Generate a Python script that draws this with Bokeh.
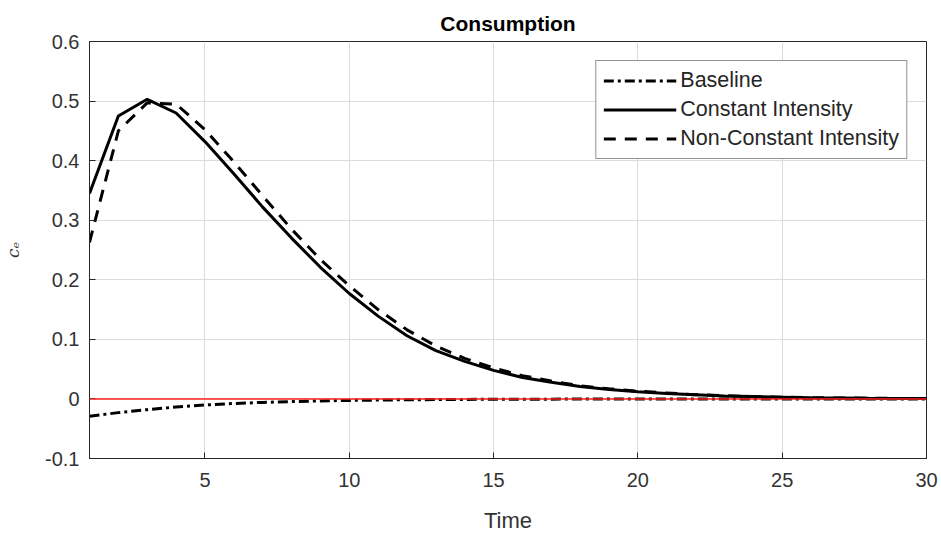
from bokeh.plotting import figure
from bokeh.models import (Legend, LegendItem, Span, FixedTicker, Range1d)
from bokeh.embed import file_html
from bokeh.resources import INLINE

# ---- data ----
time = list(range(1, 31))
baseline = [-0.029, -0.023, -0.018, -0.0135, -0.0102, -0.0077, -0.0058, -0.0044, -0.0033, -0.0025,
            -0.0019, -0.0014, -0.0011, -0.0008, -0.0006, -0.00045, -0.00035, -0.00026, -0.0002, -0.00015,
            -0.00011, -0.00008, -0.00006, -0.00005, -0.00004, -0.00003, -0.00002, -0.00002, -0.00001, -0.00001]
constant = [0.345, 0.475, 0.503, 0.48, 0.432, 0.378, 0.322, 0.27, 0.221, 0.177,
            0.139, 0.106, 0.081, 0.063, 0.048, 0.036, 0.028, 0.021, 0.016, 0.012,
            0.009, 0.007, 0.005, 0.004, 0.003, 0.002, 0.0015, 0.001, 0.0008, 0.0006]
non_constant = [0.263, 0.45, 0.497, 0.495, 0.452, 0.398, 0.341, 0.285, 0.234, 0.19,
                0.15, 0.116, 0.089, 0.068, 0.052, 0.039, 0.03, 0.022, 0.017, 0.013,
                0.01, 0.007, 0.0055, 0.004, 0.003, 0.0022, 0.0016, 0.0012, 0.0009, 0.0007]
series_names = ["Baseline", "Constant Intensity", "Non-Constant Intensity"]
x_ticks = [5, 10, 15, 20, 25, 30]
y_ticks = [-0.1, 0.0, 0.1, 0.2, 0.3, 0.4, 0.5, 0.6]
y_tick_labels = ["-0.1", "0", "0.1", "0.2", "0.3", "0.4", "0.5", "0.6"]
zero_level = 0.0

FONT = "Liberation Sans"
AX = "#262626"

p = figure(width=941, height=535, output_backend="svg", toolbar_location=None,
           x_range=Range1d(1, 30), y_range=Range1d(-0.1, 0.6),
           min_border_left=89, min_border_right=15, min_border_top=41, min_border_bottom=75)
p.background_fill_color = "white"
p.border_fill_color = "white"
p.outline_line_color = AX
p.outline_line_width = 1

p.title.text = "Consumption"
p.title.align = "center"
p.title.text_font = FONT
p.title.text_font_style = "bold"
p.title.text_font_size = "21px"
p.title.text_color = "black"
p.title.standoff = 14

# grid
for g in (p.xgrid, p.ygrid):
    g.grid_line_color = "#dcdcdc"
    g.grid_line_width = 1
p.xgrid.ticker = FixedTicker(ticks=x_ticks)
p.ygrid.ticker = FixedTicker(ticks=y_ticks)

# axes
xa = p.xaxis[0]
ya = p.yaxis[0]
xa.ticker = FixedTicker(ticks=x_ticks)
ya.ticker = FixedTicker(ticks=y_ticks)
ya.major_label_overrides = {t: l for t, l in zip(y_ticks, y_tick_labels)}
xa.axis_label = "Time"
ya.axis_label = "cₑ"
for a in (xa, ya):
    a.axis_line_color = AX
    a.major_tick_line_color = AX
    a.major_tick_in = 6
    a.major_tick_out = 0
    a.minor_tick_line_color = None
    a.major_label_text_font = FONT
    a.major_label_text_font_size = "20px"
    a.major_label_text_color = "#333333"
    a.axis_label_text_font = FONT
    a.axis_label_text_color = "#333333"
    a.axis_label_text_font_style = "normal"
xa.axis_label_text_font_size = "22px"
xa.major_label_standoff = 14
xa.axis_label_standoff = 18
ya.axis_label_text_font = "DejaVu Serif"
ya.axis_label_text_font_style = "italic"
ya.axis_label_text_font_size = "17px"
ya.major_label_standoff = 10
ya.axis_label_standoff = 19

# zero line
p.add_layout(Span(location=zero_level, dimension="width", line_color="#ff2020", line_width=1.5))

r_base = p.line(time, baseline, line_color="black", line_width=3, line_dash="10 4 3 4")
r_const = p.line(time, constant, line_color="black", line_width=3)
r_non = p.line(time, non_constant, line_color="black", line_width=3, line_dash="12 9")

legend = Legend(items=[LegendItem(label=series_names[0], renderers=[r_base]),
                       LegendItem(label=series_names[1], renderers=[r_const]),
                       LegendItem(label=series_names[2], renderers=[r_non])],
                location="top_right", margin=19, padding=7, spacing=4,
                glyph_width=73, glyph_height=25, label_height=25, label_standoff=4,
                label_text_font=FONT, label_text_font_size="21.5px", label_text_color="#262626",
                border_line_color=AX, border_line_width=1, background_fill_color="white",
                background_fill_alpha=1)
p.add_layout(legend, "center")

open("out.html", "w").write(file_html(p, INLINE))
